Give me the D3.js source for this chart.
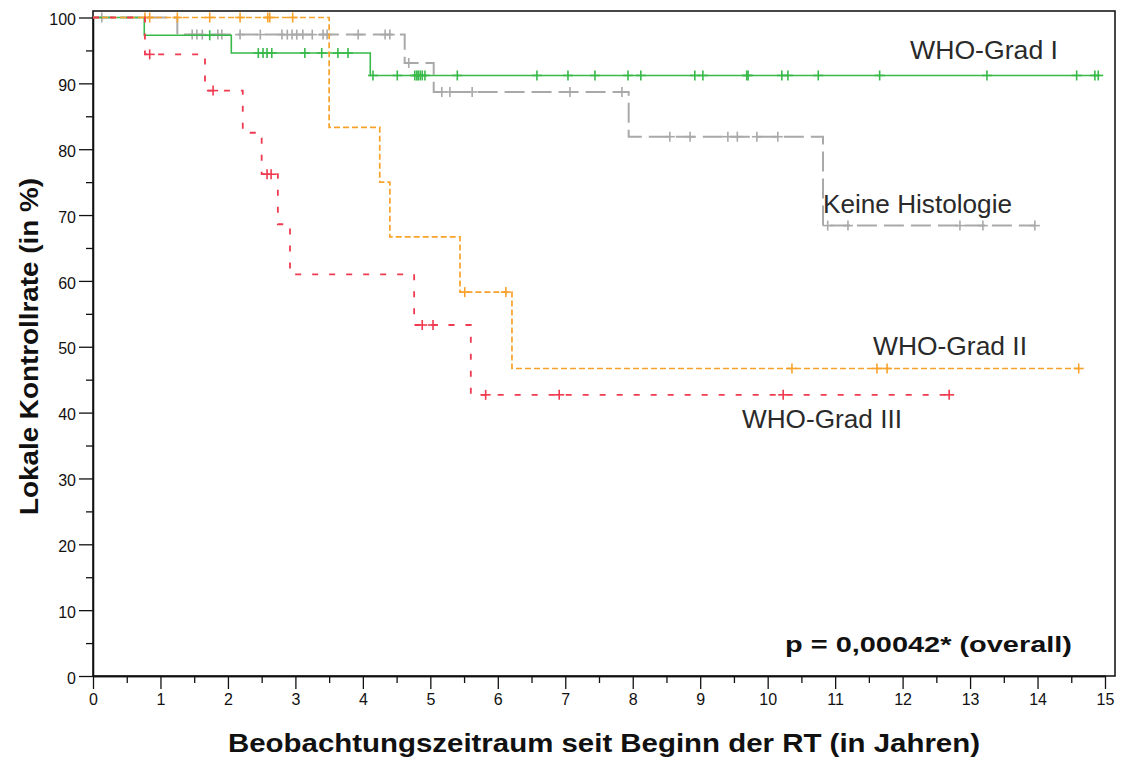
<!DOCTYPE html>
<html>
<head>
<meta charset="utf-8">
<script src="https://cdn.jsdelivr.net/npm/d3@7"></script>
<style>
  body { margin: 0; background: #fff; }
  svg { display: block; font-family: "Liberation Sans", Arial, sans-serif; }
  .tick text { font-size: 16px; fill: #111; }
  .tick line, .domain { stroke: #111; stroke-width: 1.3; }
</style>
</head>
<body>
<div class="graph"></div>
<script>
// Kaplan-Meier: lokale Kontrolle nach Gruppe
// each group: step times, survival (%) after each step, censored times, end of follow-up

var gradITimes = [0, 0.76, 2.05, 4.11]
var gradISurv = [100, 97.3, 94.6, 91.2]
var gradICensored = [1.73, 2.45, 2.52, 2.58, 2.65, 3.14, 3.39, 3.63, 3.78,
  4.15, 4.51, 4.77, 4.80, 4.82, 4.85, 4.88, 4.92, 5.40, 6.58, 7.04, 7.44, 7.93, 8.12,
  8.92, 9.04, 9.69, 9.71, 10.21, 10.30, 10.75, 11.66, 13.25, 14.58, 14.85, 14.90]
var gradIEnd = 14.92

var keineTimes = [0, 1.25, 4.62, 5.05, 7.94, 10.82]
var keineSurv = [100, 97.4, 93.1, 88.7, 81.9, 68.4]
var keineCensored = [0.13, 1.47, 1.54, 1.62, 1.85, 1.91, 2.18, 2.48, 2.80, 2.88, 2.95,
  3.02, 3.11, 3.25, 3.41, 3.47, 3.93, 4.33, 4.40, 4.68, 5.17, 5.29, 5.62, 7.07, 7.84,
  8.55, 8.85, 9.41, 9.55, 9.84, 10.15, 10.89, 11.19, 12.85, 13.19, 13.96]
var keineEnd = 13.96

var gradIITimes = [0, 3.50, 4.25, 4.40, 5.44, 6.21]
var gradIISurv = [100, 83.3, 75.0, 66.7, 58.3, 46.7]
var gradIICensored = [0.77, 0.84, 1.25, 1.73, 2.18, 2.59, 2.62, 2.96, 5.51, 6.12,
  10.36, 11.62, 11.77, 14.61]
var gradIIEnd = 14.66

var gradIIITimes = [0, 0.77, 1.66, 2.22, 2.50, 2.74, 2.92, 4.76, 5.60]
var gradIIISurv = [100, 94.4, 88.9, 82.5, 76.2, 68.6, 61.0, 53.3, 42.7]
var gradIIICensored = [0.84, 1.78, 2.58, 2.64, 4.88, 5.04, 5.82, 6.91, 10.23, 12.69]
var gradIIIEnd = 12.72

var yTicks = d3.range(0, 101, 10)
var xTicks = d3.range(0, 16, 1)

var groups = [
  {name: 'Keine Histologie', times: keineTimes, surv: keineSurv, censored: keineCensored, end: keineEnd,
    color: '#a9a9a9', width: 2, dash: '20,7'},
  {name: 'WHO-Grad I', times: gradITimes, surv: gradISurv, censored: gradICensored, end: gradIEnd,
    color: '#38b94a', width: 1.6, dash: null},
  {name: 'WHO-Grad II', times: gradIITimes, surv: gradIISurv, censored: gradIICensored, end: gradIIEnd,
    color: '#f8a22c', width: 1.7, dash: '6,3'},
  {name: 'WHO-Grad III', times: gradIIITimes, surv: gradIIISurv, censored: gradIIICensored, end: gradIIIEnd,
    color: '#ef3a50', width: 1.8, dash: '6,11'},
]

var labels = [
  {text: 'WHO-Grad I', x: 910, y: 59, len: 148},
  {text: 'Keine Histologie', x: 823, y: 213, len: 189},
  {text: 'WHO-Grad II', x: 873, y: 355, len: 154},
  {text: 'WHO-Grad III', x: 742, y: 428, len: 160},
]

var W = 1122, H = 758
var svg = d3.select('.graph').append('svg').attr('width', W).attr('height', H)

var x = d3.scaleLinear().domain([0, 15]).range([93, 1105])
var y = d3.scaleLinear().domain([0, 100]).range([676, 17.5])

// plot frame
svg.append('rect')
  .attr('x', 93).attr('y', 11).attr('width', 1115 - 93).attr('height', 676 - 11)
  .attr('fill', 'none').attr('stroke', '#1a1a1a').attr('stroke-width', 1.6)

// axes, major + minor ticks
var yAxis = svg.append('g').attr('transform', 'translate(93,0)')
  .call(d3.axisLeft(y).tickValues(yTicks).tickSize(14).tickSizeOuter(0).tickPadding(3))
svg.append('g').attr('transform', 'translate(93,0)')
  .call(d3.axisLeft(y).tickValues(d3.range(5, 100, 10)).tickSize(7).tickSizeOuter(0).tickFormat(''))
yAxis.selectAll('.tick text').attr('dy', '0.45em')

svg.append('g').attr('transform', 'translate(0,676)')
  .call(d3.axisBottom(x).tickValues(xTicks).tickSize(13).tickSizeOuter(0).tickPadding(5))
svg.append('g').attr('transform', 'translate(0,676)')
  .call(d3.axisBottom(x).tickValues(d3.range(0.5, 15, 1)).tickSize(7).tickSizeOuter(0).tickFormat(''))

// curves
var line = d3.line()
  .x(d => x(d[0]))
  .y(d => y(d[1]))
  .curve(d3.curveStepAfter)

function survAt(g, t){
  var i = d3.bisectRight(g.times, t) - 1
  return g.surv[Math.max(i, 0)]
}

groups.forEach(g => {
  var pts = g.times.map((t, i) => [t, g.surv[i]])
  pts.push([g.end, g.surv[g.surv.length - 1]])

  var gSel = svg.append('g')
  gSel.append('path')
    .attr('d', line(pts))
    .attr('fill', 'none')
    .attr('stroke', g.color)
    .attr('stroke-width', g.width)
    .attr('stroke-dasharray', g.dash)

  // censor marks
  var marks = gSel.selectAll('g.censor').data(g.censored).join('g')
    .attr('transform', t => `translate(${x(t)},${y(survAt(g, t))})`)
  marks.append('line').attr('x1', 0).attr('x2', 0).attr('y1', -5).attr('y2', 5)
  marks.append('line').attr('x1', -5).attr('x2', 5).attr('y1', 0).attr('y2', 0)
  marks.selectAll('line').attr('stroke', g.color).attr('stroke-width', 1.6)
})

// curve labels
svg.selectAll('text.label').data(labels).join('text')
  .attr('class', 'label')
  .attr('x', d => d.x).attr('y', d => d.y)
  .attr('textLength', d => d.len).attr('lengthAdjust', 'spacingAndGlyphs')
  .style('font-size', '26px').style('fill', '#2a2a2a')
  .text(d => d.text)

svg.append('text')
  .attr('x', 785).attr('y', 652)
  .attr('textLength', 287).attr('lengthAdjust', 'spacingAndGlyphs')
  .style('font-size', '22px').style('font-weight', 'bold').style('fill', '#111')
  .text('p = 0,00042* (overall)')

// axis titles
svg.append('text')
  .attr('x', 228).attr('y', 752)
  .attr('textLength', 752).attr('lengthAdjust', 'spacingAndGlyphs')
  .style('font-size', '26px').style('font-weight', 'bold').style('fill', '#111')
  .text('Beobachtungszeitraum seit Beginn der RT (in Jahren)')

svg.append('text')
  .attr('transform', 'translate(38,515) rotate(-90)')
  .attr('textLength', 337).attr('lengthAdjust', 'spacingAndGlyphs')
  .style('font-size', '26px').style('font-weight', 'bold').style('fill', '#111')
  .text('Lokale Kontrollrate (in %)')
</script>
</body>
</html>
